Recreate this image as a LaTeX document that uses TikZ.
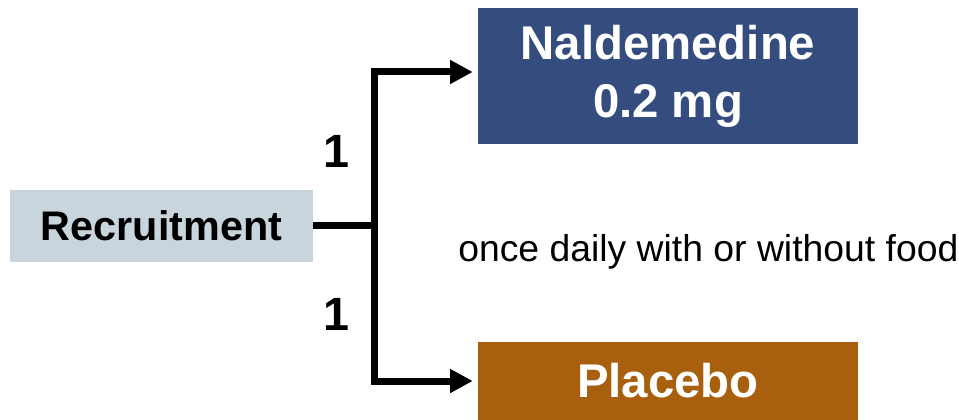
\documentclass[tikz,border=0pt]{standalone}
\usepackage{fontspec}
\setmainfont{Liberation Sans}
\usetikzlibrary{arrows.meta}

\definecolor{recgray}{HTML}{C9D5DD}
\definecolor{naldblue}{HTML}{344D7E}
\definecolor{placbrown}{HTML}{A8600F}

\begin{document}
\begin{tikzpicture}[x=0.75pt, y=-0.75pt,
		arm/.style={fill, inner sep=0pt, text=white, font=\fontsize{35.5}{43.5}\selectfont\bfseries, align=center, minimum width=285pt},
		link/.style={line width=5.25pt},
		armarrow/.style={link, -{Triangle[length=17pt, width=17pt]}, shorten >=3.75pt}]
		\useasboundingbox (0,0) rectangle (959,420);
		
		\node[fill=recgray, minimum width=227pt, minimum height=54pt, inner sep=0pt, font=\fontsize{31}{37}\selectfont\bfseries] (rec) at (161.5,226) {Recruitment};
		\node[arm, fill=naldblue, minimum height=102pt] (nald) at (668,76) {Naldemedine\\0.2 mg};
		\node[arm, fill=placbrown, minimum height=59pt] (plac) at (668,381) {Placebo};
		
		\coordinate (split) at (374,226);
		\draw[link] (rec.east) -- (split);
		\draw[armarrow] (split) |- ([yshift=3pt]nald.west);
		\draw[armarrow] (split) |- (plac.west);
		
		\node[anchor=base, font=\fontsize{35}{40}\selectfont\bfseries] (upper) at (336,168) {1};
		\node[anchor=base, font=\fontsize{35}{40}\selectfont\bfseries] (lower) at (336,330) {1};
		\node[anchor=base west, inner sep=0pt, font=\fontsize{28}{33}\selectfont] (dose) at (458,262) {once daily with or without food};
	\end{tikzpicture}
\end{document}
